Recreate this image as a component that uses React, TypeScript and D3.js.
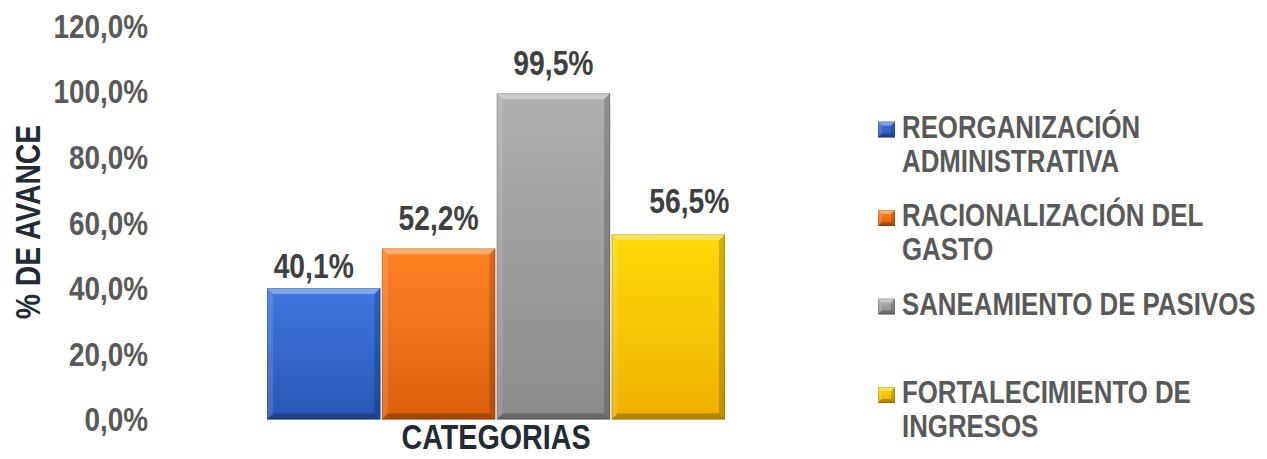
import React from "react";
import * as d3 from "d3";

const categories = [
  "REORGANIZACIÓN ADMINISTRATIVA",
  "RACIONALIZACIÓN DEL GASTO",
  "SANEAMIENTO DE PASIVOS",
  "FORTALECIMIENTO DE INGRESOS",
];
const legendLines = [
  ["REORGANIZACIÓN", "ADMINISTRATIVA"],
  ["RACIONALIZACIÓN DEL", "GASTO"],
  ["SANEAMIENTO DE PASIVOS"],
  ["FORTALECIMIENTO DE", "INGRESOS"],
];
const values = [40.1, 52.2, 99.5, 56.5];
const valueLabels = ["40,1%", "52,2%", "99,5%", "56,5%"];
const yTicks = [0, 20, 40, 60, 80, 100, 120];
const yTickLabels = ["0,0%", "20,0%", "40,0%", "60,0%", "80,0%", "100,0%", "120,0%"];

// layout-only tweaks for the data labels (manually placed in the original)
const labelNudgeX = [-10, 0, 0, 21];
const labelNudgeY = [8, 0, 0, -3];

const colorsTop = ["#3f78e0", "#ff8324", "#b0b0b0", "#ffd90a"];
const colorsBottom = ["#2856b4", "#dc600c", "#8a8a8a", "#eeb000"];

const FONT = "'Liberation Sans', Arial, sans-serif";
const SX = 0.82; // condensed look (Arial Narrow)

function NText({
  x, y, anchor = "start", size, fill, rotate = 0, children, dy,
}: {
  x: number; y: number; anchor?: string; size: number; fill: string; rotate?: number; children: React.ReactNode; dy?: string;
}) {
  return (
    <g transform={`translate(${x},${y}) rotate(${rotate}) scale(${SX},1)`}>
      <text
        x={0}
        y={0}
        dy={dy}
        textAnchor={anchor as any}
        fontFamily={FONT}
        fontWeight="bold"
        fontSize={size}
        fill={fill}
      >
        {children}
      </text>
    </g>
  );
}

function Bevel({ x, y, w, h, i, b }: { x: number; y: number; w: number; h: number; i: number; b: number }) {
  return (
    <g>
      <rect x={x} y={y} width={w} height={h} fill={`url(#g${i})`} />
      <polygon points={`${x},${y} ${x + w},${y} ${x + w - b},${y + b} ${x + b},${y + b}`} fill="#ffffff" opacity={0.35} />
      <polygon points={`${x},${y} ${x + b},${y + b} ${x + b},${y + h - b} ${x},${y + h}`} fill="#ffffff" opacity={0.12} />
      <polygon points={`${x + w},${y} ${x + w - b},${y + b} ${x + w - b},${y + h - b} ${x + w},${y + h}`} fill="#000000" opacity={0.18} />
      <polygon points={`${x},${y + h} ${x + b},${y + h - b} ${x + w - b},${y + h - b} ${x + w},${y + h}`} fill="#000000" opacity={0.25} />
      <rect x={x + 0.5} y={y + 0.5} width={w - 1} height={h - 1} fill="none" stroke="#000" strokeOpacity={0.15} />
    </g>
  );
}

export default function App() {
  const W = 1267;
  const H = 459;
  const y = d3.scaleLinear().domain([0, 120]).range([419.5, 26]);
  const x = d3.scaleBand<string>().domain(categories).range([267, 725]).paddingInner(0.012);

  const legendX = 878;
  const legendY0 = 137.5;
  const legendSlot = 88.5;
  const lineH = 34;

  return (
    <svg width={W} height={H} style={{ position: "absolute", left: 0, top: 0, background: "#fff" }}>
      <defs>
        {categories.map((c, i) => (
          <linearGradient key={c} id={`g${i}`} x1="0" y1="0" x2="0" y2="1">
            <stop offset="0%" stopColor={colorsTop[i]} />
            <stop offset="100%" stopColor={colorsBottom[i]} />
          </linearGradient>
        ))}
      </defs>

      {/* Y tick labels */}
      {yTicks.map((t, i) => (
        <NText key={t} x={148} y={y(t)} dy="0.35em" anchor="end" size={34} fill="#595959">
          {yTickLabels[i]}
        </NText>
      ))}

      {/* Y axis title */}
      <NText x={40} y={222} rotate={-90} anchor="middle" size={34.5} fill="#222a35">
        % DE AVANCE
      </NText>

      {/* Bars */}
      {categories.map((c, i) => {
        const bx = x(c)!;
        const bw = x.bandwidth();
        const by = y(values[i]);
        const bh = y(0) - by;
        return <Bevel key={c} x={bx} y={by} w={bw} h={bh} i={i} b={6} />;
      })}

      {/* Data labels */}
      {categories.map((c, i) => (
        <NText
          key={c}
          x={x(c)! + x.bandwidth() / 2 + labelNudgeX[i]}
          y={y(values[i]) - 18 + labelNudgeY[i]}
          anchor="middle"
          size={34.5}
          fill="#404040"
        >
          {valueLabels[i]}
        </NText>
      ))}

      {/* X axis title */}
      <NText x={(x.range()[0] + x.range()[1]) / 2} y={449} anchor="middle" size={35} fill="#222a35">
        CATEGORIAS
      </NText>

      {/* Legend */}
      {legendLines.map((lines, i) => {
        const by = legendY0 + i * legendSlot;
        return (
          <g key={i}>
            <Bevel x={legendX} y={by - 16} w={17} h={16} i={i} b={4} />
            {lines.map((ln, j) => (
              <NText key={j} x={legendX + 24} y={by + j * lineH} size={31.5} fill="#595959">
                {ln}
              </NText>
            ))}
          </g>
        );
      })}
    </svg>
  );
}
